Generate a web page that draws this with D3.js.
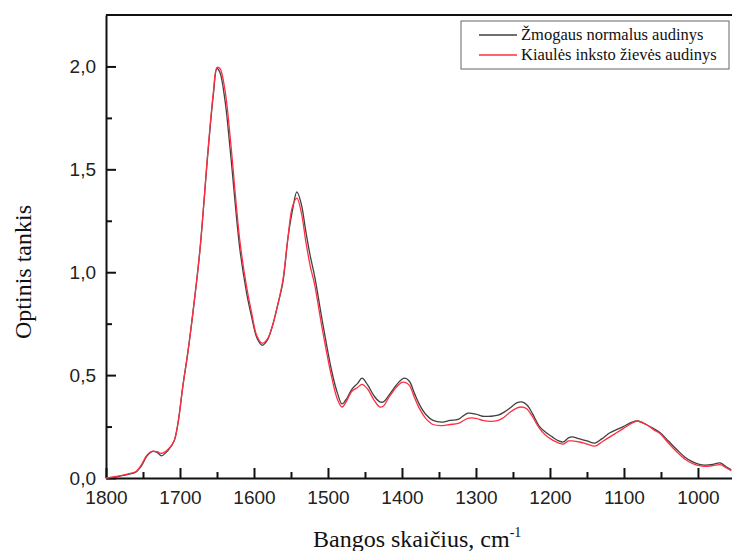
<!DOCTYPE html>
<meta charset="utf-8">
<style>
body { margin: 0; background: #fff; }
.axis text { font: 19px "Liberation Sans", Arial, sans-serif; fill: #222; }
.axis path, .axis line { stroke: #111; stroke-width: 2px; }
.title { font: 24px "Liberation Serif", "Times New Roman", serif; fill: #111; }
.legend text { font: 16.5px "Liberation Serif", "Times New Roman", serif; fill: #111; }
.line { fill: none; stroke-width: 1.3px; }
</style>
<svg width="732" height="551"></svg>
<script src="https://d3js.org/d3.v7.min.js"></script>
<script>
// wavenumbers, cm-1
var wavenumbers = [1800, 1790, 1780, 1770, 1760, 1752, 1745, 1738, 1731, 1725, 1716, 1708, 1703, 1696, 1689, 1680, 1673, 1662, 1655, 1650, 1646, 1639, 1632, 1619, 1610, 1603, 1596, 1589, 1582, 1575, 1568, 1561, 1554, 1548, 1542, 1536, 1530, 1524, 1518, 1508, 1495, 1487, 1481, 1474, 1468, 1460, 1454, 1446, 1438, 1430, 1425, 1418, 1408, 1400, 1396, 1390, 1383, 1376, 1368, 1358, 1345, 1335, 1324, 1311, 1300, 1291, 1280, 1270, 1262, 1254, 1245, 1238, 1231, 1224, 1214, 1205, 1197, 1188, 1182, 1175, 1170, 1160, 1150, 1139, 1130, 1119, 1110, 1101, 1090, 1082, 1070, 1060, 1051, 1040, 1028, 1017, 1007, 998, 991, 980, 970, 962, 955];

var human = [0, 0.003, 0.01, 0.018, 0.028, 0.06, 0.105, 0.128, 0.125, 0.108, 0.135, 0.18, 0.26, 0.45, 0.62, 0.88, 1.11, 1.59, 1.86, 1.99, 1.97, 1.83, 1.59, 1.11, 0.9, 0.78, 0.68, 0.645, 0.67, 0.74, 0.84, 0.95, 1.17, 1.3, 1.39, 1.33, 1.2, 1.08, 0.98, 0.77, 0.52, 0.41, 0.36, 0.39, 0.43, 0.46, 0.485, 0.45, 0.4, 0.37, 0.37, 0.4, 0.45, 0.48, 0.485, 0.47, 0.41, 0.354, 0.31, 0.28, 0.272, 0.28, 0.285, 0.315, 0.31, 0.3, 0.3, 0.305, 0.32, 0.34, 0.365, 0.37, 0.355, 0.315, 0.25, 0.22, 0.2, 0.18, 0.175, 0.195, 0.2, 0.19, 0.18, 0.17, 0.19, 0.22, 0.235, 0.25, 0.27, 0.277, 0.26, 0.24, 0.22, 0.18, 0.136, 0.1, 0.078, 0.066, 0.063, 0.066, 0.073, 0.055, 0.04];

var pig = [0, 0.005, 0.012, 0.02, 0.03, 0.065, 0.11, 0.13, 0.128, 0.12, 0.14, 0.18, 0.26, 0.45, 0.62, 0.88, 1.11, 1.6, 1.87, 1.995, 1.99, 1.88, 1.65, 1.15, 0.93, 0.8, 0.69, 0.655, 0.675, 0.74, 0.84, 0.96, 1.17, 1.32, 1.36, 1.29, 1.15, 1.03, 0.94, 0.73, 0.49, 0.38, 0.345, 0.38, 0.42, 0.44, 0.455, 0.43, 0.38, 0.345, 0.35, 0.39, 0.44, 0.465, 0.465, 0.45, 0.39, 0.335, 0.29, 0.26, 0.255, 0.26, 0.265, 0.29, 0.29, 0.28, 0.275, 0.28, 0.295, 0.32, 0.34, 0.345, 0.335, 0.3, 0.24, 0.205, 0.185, 0.17, 0.165, 0.18, 0.18, 0.175, 0.165, 0.155, 0.175, 0.2, 0.22, 0.24, 0.265, 0.277, 0.26, 0.235, 0.215, 0.17, 0.125, 0.09, 0.07, 0.06, 0.057, 0.06, 0.065, 0.05, 0.035];

var seriesNames = ["Žmogaus normalus audinys", "Kiaulės inksto žievės audinys"];
var seriesColors = ["#404040", "#ff2f42"];
var xTicks = [1800, 1700, 1600, 1500, 1400, 1300, 1200, 1100, 1000];
var yTicks = [0, 0.5, 1.0, 1.5, 2.0];

var svg = d3.select("svg"),
    margin = {top: 15, right: 0, bottom: 73, left: 106},
    width = +svg.attr("width") - margin.left - margin.right,
    height = +svg.attr("height") - margin.top - margin.bottom,
    g = svg.append("g").attr("transform", "translate(" + margin.left + "," + margin.top + ")");

var x = d3.scaleLinear().domain([1800, 954]).range([0, width]),
    y = d3.scaleLinear().domain([0, 2.25]).range([height, 0]);

var fmt = function(d) { return d3.format(".1f")(d).replace(".", ","); };

// minor ticks
g.append("g")
    .attr("class", "axis")
    .attr("transform", "translate(0," + height + ")")
    .call(d3.axisTop(x).tickValues(d3.range(1750, 954, -100)).tickSize(6).tickFormat(""))
    .call(function(a) { a.select(".domain").remove(); });
g.append("g")
    .attr("class", "axis")
    .call(d3.axisRight(y).tickValues([0.25, 0.75, 1.25, 1.75]).tickSize(6).tickFormat(""))
    .call(function(a) { a.select(".domain").remove(); });

// major ticks with labels (drawn inward)
g.append("g")
    .attr("class", "axis")
    .attr("transform", "translate(0," + height + ")")
    .call(d3.axisBottom(x).tickValues(xTicks).tickSizeInner(-10).tickSizeOuter(0).tickPadding(13).tickFormat(d3.format("d")));

g.append("g")
    .attr("class", "axis")
    .call(d3.axisLeft(y).tickValues(yTicks).tickSizeInner(-10).tickSizeOuter(0).tickPadding(10).tickFormat(fmt));

// top frame line
g.append("line")
    .attr("x1", 0).attr("x2", width)
    .attr("y1", 0).attr("y2", 0)
    .attr("stroke", "#111").attr("stroke-width", 2);

var line = d3.line()
    .curve(d3.curveCatmullRom.alpha(0.5))
    .x(function(d) { return x(d.wn); })
    .y(function(d) { return y(d.v); });

[human, pig].forEach(function(vals, i) {
    var pts = wavenumbers.map(function(w, j) { return {wn: w, v: vals[j]}; });
    g.append("path")
        .attr("class", "line")
        .attr("stroke", seriesColors[i])
        .attr("d", line(pts));
});

// axis titles
svg.append("text")
    .attr("class", "title")
    .attr("x", 313)
    .attr("y", 547)
    .text("Bangos skaičius, cm")
  .append("tspan")
    .attr("dy", -10)
    .attr("font-size", 14)
    .text("-1");

svg.append("text")
    .attr("class", "title")
    .attr("transform", "translate(31," + 272 + ") rotate(-90)")
    .attr("text-anchor", "middle")
    .text("Optinis tankis");

// legend
var legend = svg.append("g").attr("class", "legend");
legend.append("rect")
    .attr("x", 461).attr("y", 21)
    .attr("width", 268).attr("height", 48)
    .attr("fill", "#fff").attr("stroke", "#666").attr("stroke-width", 1);
seriesNames.forEach(function(name, i) {
    var ly = 35 + i * 20;
    legend.append("line")
        .attr("x1", 479).attr("x2", 517)
        .attr("y1", ly).attr("y2", ly)
        .attr("stroke", seriesColors[i]).attr("stroke-width", 1.3);
    legend.append("text")
        .attr("x", 521).attr("y", ly + 5)
        .text(name);
});
</script>
